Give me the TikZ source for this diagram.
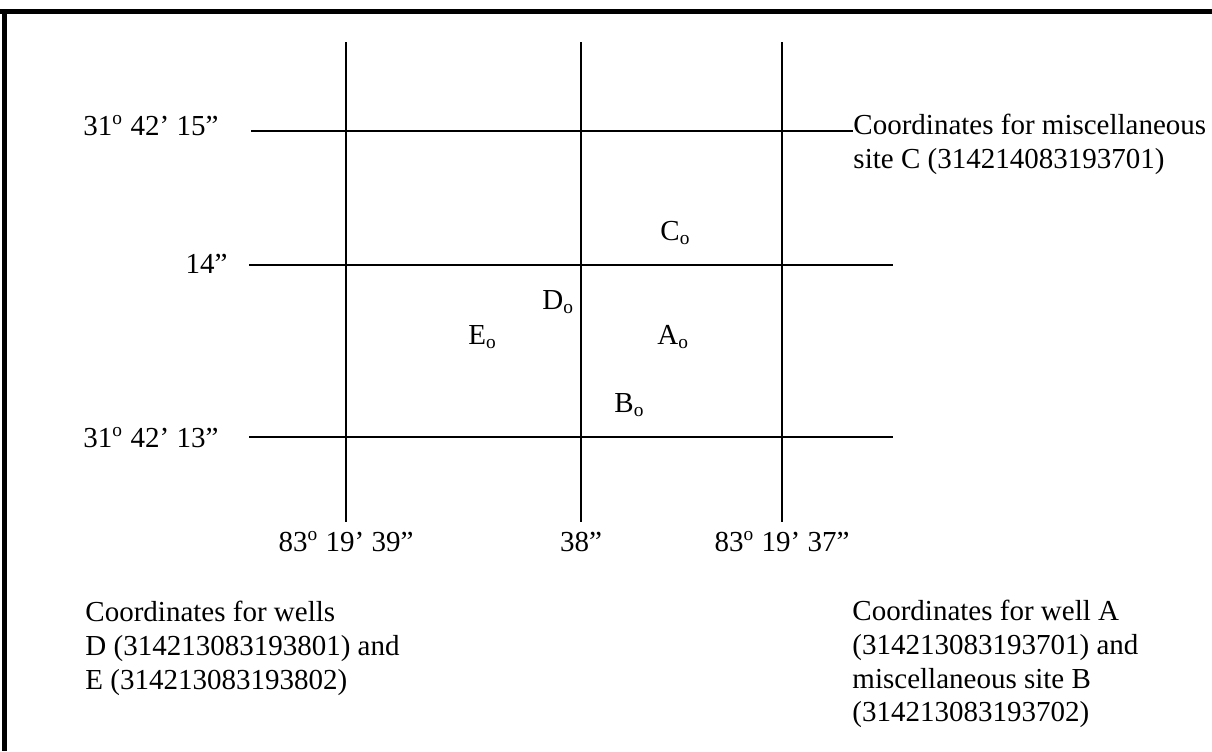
\documentclass[tikz,border=0pt]{standalone}
\usepackage{fontspec}
\setmainfont{Liberation Serif}
\usepackage{tikz}
\usetikzlibrary{positioning}

\begin{document}
\begin{tikzpicture}[
  x=0.4138pt, y=-0.4138pt,
  font=\fontsize{12}{13.9}\selectfont,
  frame/.style={line width=2.1pt},
  grid/.style={line width=1pt},
  lbl/.style={inner sep=0pt, anchor=base west},
  tick/.style={inner sep=0pt, anchor=base},
  note/.style={inner sep=0pt, anchor=north west, align=left}
]
\useasboundingbox (0,0) rectangle (1212,751);
\draw[frame] (0,11.5) -- (1212,11.5);
\draw[frame] (4.5,9) -- (4.5,751);

% latitude labels
\node[lbl] (lat15) at (83,135) {31\textsuperscript{o} 42’ 15”};
\node[lbl, anchor=base east] (lat14) at (228,273) {14”};
\node[lbl] (lat13) at (83,447) {31\textsuperscript{o} 42’ 13”};

% longitude labels
\node[tick] (lon39) at (346,551) {83\textsuperscript{o} 19’ 39”};
\node[tick] (lon38) at (581,551) {38”};
\node[tick] (lon37) at (782,551) {83\textsuperscript{o} 19’ 37”};

% notes
\node[note] (siteC) at (853,114) {Coordinates for miscellaneous\\site C (314214083193701)};
\node[note] (wellsDE) at (85,601) {Coordinates for wells\\D (314213083193801) and\\E (314213083193802)};
\node[note] (wellA) at (852,600) {Coordinates for well A\\(314213083193701) and\\miscellaneous site B\\(314213083193702)};

% grid
\coordinate (h15w) at (251,131);
\coordinate (h14w) at (249,265);
\coordinate (h14e) at (893,265);
\coordinate (h13w) at (249,437);
\coordinate (h13e) at (893,437);
\draw[grid] (h15w) -- (h15w -| siteC.west);
\draw[grid] (h14w) -- (h14e);
\draw[grid] (h13w) -- (h13e);
\foreach \x in {346,581,782}
  \draw[grid] (\x,42) -- (\x,522);

% sites
\node[lbl] (C) at (660,240) {C\textsubscript{o}};
\node[lbl] (D) at (542,309) {D\textsubscript{o}};
\node[lbl] (E) at (468,344) {E\textsubscript{o}};
\node[lbl] (A) at (657,344) {A\textsubscript{o}};
\node[lbl] (B) at (614,412) {B\textsubscript{o}};
\end{tikzpicture}
\end{document}
